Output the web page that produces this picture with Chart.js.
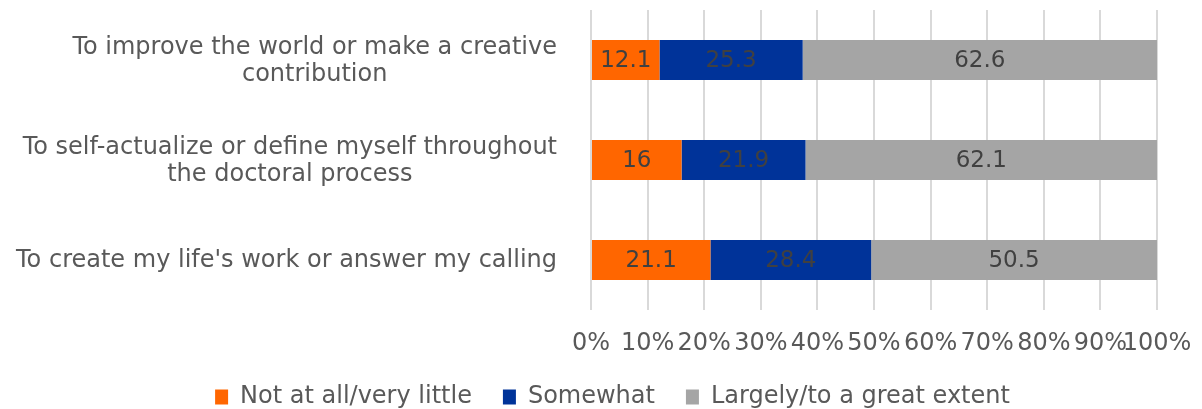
<!DOCTYPE html>
<html>
<head>
<meta charset="utf-8">
<title>Motivations</title>
<script src="https://cdn.jsdelivr.net/npm/chart.js"></script>
<style>
  html, body { margin: 0; padding: 0; background: #fff; }
  #wrap { width: 1202px; height: 409px; }
</style>
</head>
<body>
<div id="wrap"><canvas id="chart" width="1202" height="409"></canvas></div>
<script>
const categories = [
  ["To improve the world or make a creative", "contribution"],
  ["To self-actualize or define myself throughout", "the doctoral process"],
  ["To create my life's work or answer my calling"]
];
const notAtAll = [12.1, 16, 21.1];
const somewhat = [25.3, 21.9, 28.4];
const largely = [62.6, 62.1, 50.5];
const seriesNames = ["Not at all/very little", "Somewhat", "Largely/to a great extent"];
const tickValues = [0, 10, 20, 30, 40, 50, 60, 70, 80, 90, 100];

const FONT = "'DejaVu Sans', Verdana, sans-serif";
const TEXT = "#595959";
const PAD_LEFT = 68;

// value labels centred on each bar segment
const barValues = {
  id: "barValues",
  afterDatasetsDraw(chart) {
    const ctx = chart.ctx;
    ctx.save();
    ctx.font = "23px " + FONT;
    ctx.fillStyle = "#404040";
    ctx.textAlign = "center";
    ctx.textBaseline = "middle";
    chart.data.datasets.forEach((ds, di) => {
      chart.getDatasetMeta(di).data.forEach((bar, i) => {
        ctx.fillText(String(ds.data[i]), (bar.x + bar.base) / 2, bar.y + 1);
      });
    });
    ctx.restore();
  }
};

// category names: block right-aligned to the plot, lines centred in the block
const categoryNames = {
  id: "categoryNames",
  afterDraw(chart) {
    const ctx = chart.ctx;
    const yScale = chart.scales.y;
    const right = chart.chartArea.left - 34;
    const lineH = 27;
    ctx.save();
    ctx.font = "24px " + FONT;
    ctx.fillStyle = TEXT;
    ctx.textAlign = "center";
    ctx.textBaseline = "middle";
    categories.forEach((lines, i) => {
      const w = Math.max(...lines.map(l => ctx.measureText(l).width));
      const cx = right - w / 2;
      const cy = yScale.getPixelForValue(i) + 1;
      const top = cy - (lines.length - 1) * lineH / 2;
      lines.forEach((l, k) => ctx.fillText(l, cx, top + k * lineH));
    });
    ctx.restore();
  }
};

new Chart(document.getElementById("chart"), {
  type: "bar",
  data: {
    labels: categories,
    datasets: [
      { label: seriesNames[0], data: notAtAll, backgroundColor: "#FF6600" },
      { label: seriesNames[1], data: somewhat, backgroundColor: "#003399" },
      { label: seriesNames[2], data: largely, backgroundColor: "#A5A5A5" }
    ]
  },
  options: {
    indexAxis: "y",
    responsive: false,
    animation: false,
    layout: { padding: { top: 10, right: 45, left: PAD_LEFT, bottom: -10 } },
    datasets: { bar: { categoryPercentage: 1, barPercentage: 0.4, borderWidth: 0 } },
    scales: {
      x: {
        stacked: true,
        min: 0,
        max: 100,
        afterBuildTicks(scale) { scale.ticks = tickValues.map(v => ({ value: v })); },
        afterFit(scale) { scale.height = 44; },
        grid: { color: "#D9D9D9", lineWidth: 2, drawTicks: true, tickLength: 15, tickColor: "rgba(0,0,0,0)" },
        border: { display: false },
        ticks: {
          autoSkip: false,
          maxRotation: 0,
          padding: 4,
          color: TEXT,
          font: { family: FONT, size: 24 },
          callback: v => v + "%"
        }
      },
      y: {
        stacked: true,
        grid: { display: false },
        border: { display: false },
        ticks: { display: false },
        afterFit(scale) { scale.width = 591 - PAD_LEFT; }
      }
    },
    plugins: {
      tooltip: { enabled: false },
      legend: {
        position: "bottom",
        labels: {
          boxWidth: 13,
          boxHeight: 15,
          padding: 31,
          color: TEXT,
          font: { family: FONT, size: 24 }
        }
      }
    }
  },
  plugins: [barValues, categoryNames]
});
</script>
</body>
</html>
